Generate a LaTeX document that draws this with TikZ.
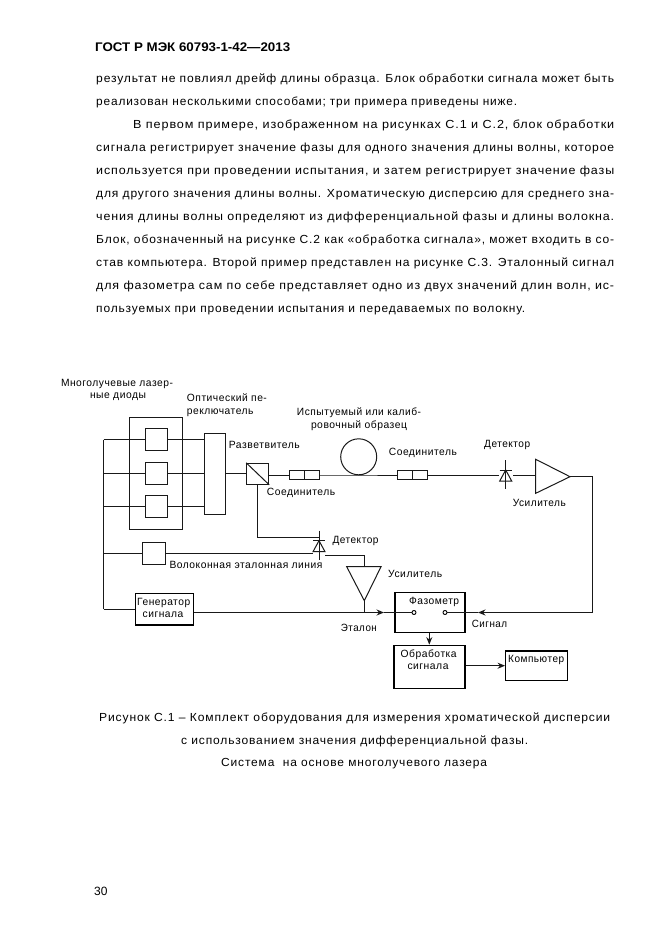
\documentclass[tikz,border=0pt]{standalone}
\usepackage{fontspec}
\usepackage{graphicx}
\setmainfont{Liberation Sans}
\newfontfamily\bodyf[LetterSpace=7]{Liberation Sans}
\newfontfamily\labf[LetterSpace=5]{Liberation Sans}
\usetikzlibrary{arrows.meta}
\newcommand{\fit}[2]{\resizebox{#1pt}{\height}{#2}}
\tikzset{
  ln/.style={line width=1pt,black!90},
  arr/.style={ln,-{Stealth[length=7.5pt,width=6pt]}},
  blockbox/.style={draw=black!90,line width=1pt,inner sep=0pt,fill=white},
  thick box/.style={draw=black,line width=1.35pt,inner sep=0pt},
  port/.style={circle,draw=black,line width=0.9pt,fill=white,inner sep=0pt,minimum size=4pt},
  body/.style={anchor=base west,inner sep=0pt,font=\fontsize{11.7}{14}\bodyf},
  lab/.style={anchor=base west,inner sep=0pt,font=\fontsize{10.5}{12}\labf},
  labc/.style={anchor=base,inner sep=0pt,font=\fontsize{10.5}{12}\labf},
  diode/.pic={
    \draw[ln] (0,-10) -- (0,19);
    \draw[ln] (-6,0) -- (6,0);
    \draw[ln] (0,0) -- (-6,11) -- (6,11) -- cycle;
  }
}
\begin{document}
\begin{tikzpicture}[x=1pt,y=-1pt]
\useasboundingbox (0,0) rectangle (661,935);
% page text
\node[anchor=base west,inner sep=0pt,font=\fontsize{12.5}{14}\bfseries] (hdr) at (95,51) {\fit{195}{ГОСТ Р МЭК 60793-1-42—2013}};
\node[body] (t1) at (96,82) {\fit{518}{результат не повлиял дрейф длины образца. Блок обработки сигнала может быть}};
\node[body] (t2) at (96,105) {\fit{421}{реализован несколькими способами; три примера приведены ниже.}};
\node[body] (t3) at (133,128) {\fit{481}{В первом примере, изображенном на рисунках С.1 и С.2, блок обработки}};
\node[body] (t4) at (96,151) {\fit{518}{сигнала регистрирует значение фазы для одного значения длины волны, которое}};
\node[body] (t5) at (96,174) {\fit{518}{используется при проведении испытания, и затем регистрирует значение фазы}};
\node[body] (t6) at (96,197) {\fit{518}{для другого значения длины волны. Хроматическую дисперсию для среднего зна-}};
\node[body] (t7) at (96,220) {\fit{518}{чения длины волны определяют из дифференциальной фазы и длины волокна.}};
\node[body] (t8) at (96,243) {\fit{518}{Блок, обозначенный на рисунке С.2 как «обработка сигнала», может входить в со-}};
\node[body] (t9) at (96,266) {\fit{518}{став компьютера. Второй пример представлен на рисунке С.3. Эталонный сигнал}};
\node[body] (t10) at (96,289) {\fit{518}{для фазометра сам по себе представляет одно из двух значений длин волн, ис-}};
\node[body] (t11) at (96,312) {\fit{429}{пользуемых при проведении испытания и передаваемых по волокну.}};
% blocks
\node[draw=black!90,line width=0.9pt,inner sep=0pt,minimum width=53pt,minimum height=112pt] (grp) at (155.7,473) {};
\node[blockbox,minimum width=22pt,minimum height=22pt] (d1) at (156,439.7) {};
\node[blockbox,minimum width=22pt,minimum height=22pt] (d2) at (156,473) {};
\node[blockbox,minimum width=22pt,minimum height=22pt] (d3) at (156,506) {};
\node[blockbox,minimum width=20.5pt,minimum height=81pt] (sw) at (215,473.5) {};
\node[blockbox,minimum width=22pt,minimum height=21pt] (spl) at (257.7,473.8) {};
\draw[ln] (spl.north west) -- (spl.south east);
\node[blockbox,minimum width=29.5pt,minimum height=8.5pt] (c1) at (304.7,475) {};
\draw[ln] (c1.north) -- (c1.south);
\node[blockbox,minimum width=29.5pt,minimum height=9pt] (c2) at (412.5,475) {};
\draw[ln] (c2.north) -- (c2.south);
\node[draw=black!90,line width=1pt,circle,inner sep=0pt,minimum size=36pt] (coil) at (358.7,456.8) {};
\node[blockbox,minimum width=22.5pt,minimum height=22pt] (fr) at (154,553.7) {};
\node[thick box,minimum width=58pt,minimum height=31.5pt] (gen) at (164.2,609.2) {};
\node[thick box,minimum width=70pt,minimum height=40pt] (ph) at (430,612.7) {};
\node[thick box,minimum width=71pt,minimum height=43pt] (proc) at (429.5,666.8) {};
\node[thick box,minimum width=61.5pt,minimum height=29.3pt] (comp) at (536.5,665.7) {};
\node[port] (p1) at (414,612.5) {};
\node[port] (p2) at (445,612.5) {};
% amplifiers
\coordinate (a1t) at (535.7,459.3);
\coordinate (a1b) at (535.7,493.3);
\coordinate (a1o) at (570,476.7);
\coordinate (a1i) at (535.7,475);
\draw[ln] (a1t) -- (a1b) -- (a1o) -- cycle;
\coordinate (a2l) at (346.7,566.7);
\coordinate (a2r) at (381,566.7);
\coordinate (a2o) at (364.3,600.7);
\coordinate (a2i) at (364.3,566.7);
\draw[ln] (a2l) -- (a2r) -- (a2o) -- cycle;
% detectors
\coordinate (det1) at (505.7,470);
\coordinate (det2) at (319,540.7);
\pic at (det1) {diode};
\pic at (det2) {diode};
% bus
\coordinate (busT) at (103.7,439.7);
\coordinate (busB) at (103.7,609.2);
\coordinate (bus2) at (103.7,473);
\coordinate (bus3) at (103.7,506);
\coordinate (bus4) at (103.7,553.7);
\draw[ln] (busT) -- (busB);
\draw[ln] (busT) -- (d1.west);
\draw[ln] (bus2) -- (d2.west);
\draw[ln] (bus3) -- (d3.west);
\draw[ln] (bus4) -- (fr.west);
\draw[ln] (busB) -- (gen.west);
% to switch
\draw[ln] (d1.east) -- (d1.east -| sw.west);
\draw[ln] (d2.east) -- (d2.east -| sw.west);
\draw[ln] (d3.east) -- (d3.east -| sw.west);
\draw[ln] (sw.east) -- (sw.east -| spl.west);
\draw[ln] (c1.west -| spl.east) -- (c1.west);
\coordinate (coilB) at (358.7,475);
\draw[ln] (c1.east) -- (coilB) -- (c2.west);
% detector branch
\coordinate (detIn) at (319,537.7);
\coordinate (splB) at (257.3,484.3);
\draw[ln] (splB) |- (detIn);
\coordinate (d1L) at (499,475);
\coordinate (d1R) at (513,475);
\draw[ln] (c2.east) -- (d1L);
\draw[ln] (d1R) -- (a1i);
% reference
\coordinate (frEnd) at (312.5,553.7);
\coordinate (d2R) at (325,555);
\draw[ln] (fr.east) -- (frEnd);
\draw[ln] (d2R) -| (a2i);
% outputs
\coordinate (jn) at (364.3,612.5);
\coordinate (a1e) at (592.3,476.7);
\coordinate (cor) at (592.3,612.5);
\coordinate (sigA) at (478,612.5);
\coordinate (etA) at (384,612.5);
\draw[ln] (a2o) -- (jn);
\draw[arr] (gen.east |- etA) -- (etA);
\draw[ln] (etA) -- (p1.west);
\draw[ln] (a1o) -- (a1e) -- (cor);
\draw[arr] (cor) -- (sigA);
\draw[ln] (sigA) -- (p2.east);
\coordinate (vx) at (429.3,640);
\draw[arr] (ph.south -| vx) -- (proc.north -| vx);
\draw[arr] (proc.east |- comp.west) -- (comp.west);
% labels
\node[labc] (l1) at (117,386) {\fit{112}{Многолучевые лазер-}};
\node[labc] (l2) at (118,398) {\fit{56}{ные диоды}};
\node[lab] (l3) at (186.7,401) {\fit{80}{Оптический пе-}};
\node[lab] (l4) at (186.7,414) {\fit{66.6}{реключатель}};
\node[lab] (l5) at (228.7,448) {\fit{71}{Разветвитель}};
\node[lab] (l6) at (266.7,495) {\fit{68.3}{Соединитель}};
\node[labc] (l7) at (359,415) {\fit{124}{Испытуемый или калиб-}};
\node[labc] (l8) at (359,428) {\fit{96}{ровочный образец}};
\node[lab] (l9) at (388.7,455.5) {\fit{68}{Соединитель}};
\node[lab] (l10) at (484,447) {\fit{46}{Детектор}};
\node[lab] (l11) at (512.7,506.5) {\fit{53}{Усилитель}};
\node[lab] (l12) at (332.3,543) {\fit{46}{Детектор}};
\node[lab] (l13) at (388,577) {\fit{54}{Усилитель}};
\node[lab] (l14) at (169.3,568.5) {\fit{153}{Волоконная эталонная линия}};
\node[labc] (l15) at (163.7,605) {\fit{53}{Генератор}};
\node[labc] (l16) at (163,617) {\fit{40.6}{сигнала}};
\node[lab] (l17) at (340.7,631) {\fit{36}{Эталон}};
\node[lab] (l18) at (409,604) {\fit{50}{Фазометр}};
\node[lab] (l19) at (471.7,627) {\fit{35.3}{Сигнал}};
\node[labc] (l20) at (428.7,657) {\fit{56}{Обработка}};
\node[labc] (l21) at (428,669) {\fit{41}{сигнала}};
\node[lab] (l22) at (508,662.5) {\fit{56}{Компьютер}};
% caption
\node[body] (cap1) at (99,721) {\fit{511}{Рисунок С.1 – Комплект оборудования для измерения хроматической дисперсии}};
\node[body] (cap2) at (181,744) {\fit{347}{с использованием значения дифференциальной фазы.}};
\node[body] (cap3) at (221,766) {\fit{266}{Система\ \ на основе многолучевого лазера}};
\node[anchor=base west,inner sep=0pt,font=\fontsize{12}{14}\selectfont] (pg) at (94,895) {30};
\end{tikzpicture}
\end{document}
